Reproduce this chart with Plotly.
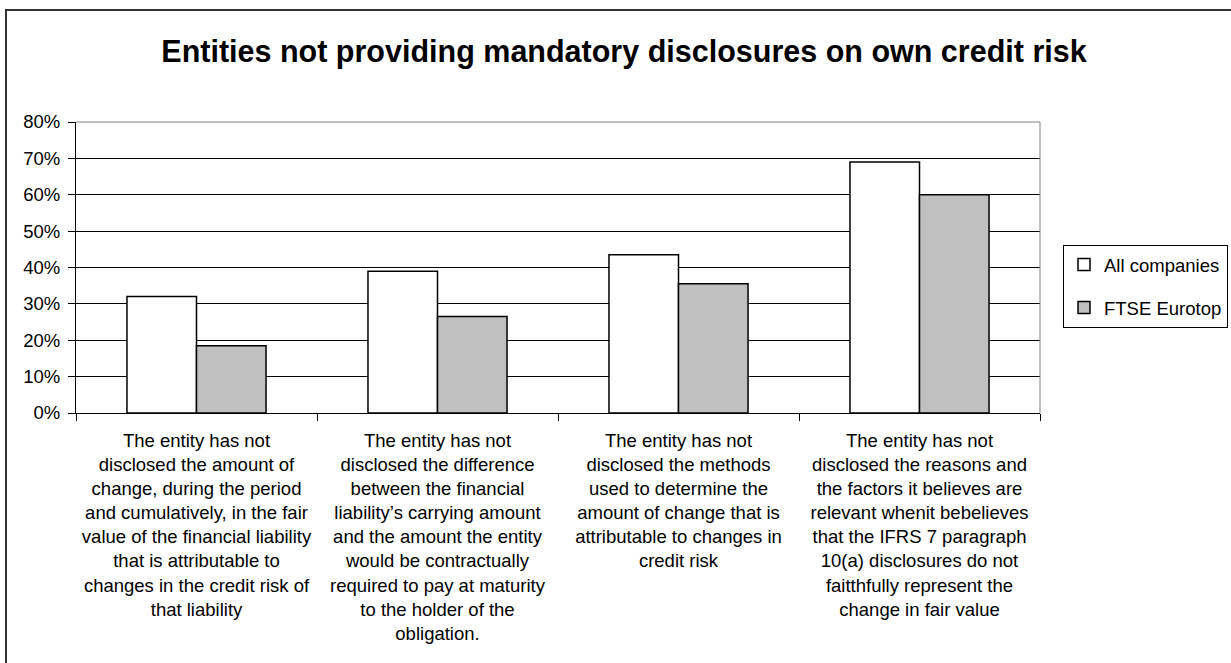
import plotly.graph_objects as go

# Disclosure requirements (category axis), wrapped as in the report
categories = [
    "The entity has not<br>disclosed the amount of<br>change, during the period<br>and cumulatively, in the fair<br>value of the financial liability<br>that is attributable to<br>changes in the credit risk of<br>that liability",
    "The entity has not<br>disclosed the difference<br>between the financial<br>liability\u2019s carrying amount<br>and the amount the entity<br>would be contractually<br>required to pay at maturity<br>to the holder of the<br>obligation.",
    "The entity has not<br>disclosed the methods<br>used to determine the<br>amount of change that is<br>attributable to changes in<br>credit risk",
    "The entity has not<br>disclosed the reasons and<br>the factors it believes are<br>relevant whenit bebelieves<br>that the IFRS 7 paragraph<br>10(a) disclosures do not<br>faitthfully represent the<br>change in fair value",
]

all_companies = [0.32, 0.39, 0.435, 0.69]
ftse_eurotop = [0.185, 0.265, 0.355, 0.60]

FONT = "Liberation Sans, Arial, sans-serif"
W, H = 1231, 663
ML, MR, MT, MB = 76, 191, 122, 250

fig = go.Figure()
fig.add_trace(go.Bar(
    name="All companies", x=categories, y=all_companies,
    marker=dict(color="#FFFFFF", line=dict(color="#000000", width=1.5)),
    legendgroup="a",
))
fig.add_trace(go.Bar(
    name="FTSE Eurotop", x=categories, y=ftse_eurotop,
    marker=dict(color="#C0C0C0", line=dict(color="#000000", width=1.5)),
    legendgroup="b",
))

pw = W - ML - MR
ph = H - MT - MB

fig.update_layout(
    width=W, height=H,
    margin=dict(l=ML, r=MR, t=MT, b=MB, autoexpand=False),
    paper_bgcolor="#FFFFFF", plot_bgcolor="#FFFFFF",
    barmode="group", bargap=0.423, bargroupgap=0,
    font=dict(family=FONT, size=18.5, color="#000000"),
    title=dict(
        text="<b>Entities not providing mandatory disclosures on own credit risk</b>",
        font=dict(family=FONT, size=30.5, color="#000000"),
        x=624 / W, xanchor="center", xref="container",
        y=1 - 51 / H, yanchor="middle", yref="container",
    ),
    showlegend=True,
    legend=dict(
        x=(1063 - ML) / pw, xanchor="left",
        y=(ph - (245 - MT)) / ph, yanchor="top",
        bordercolor="#000000", borderwidth=1, bgcolor="#FFFFFF",
        font=dict(family=FONT, size=18.5, color="#000000"),
        tracegroupgap=16, itemclick=False,
    ),
    xaxis=dict(
        type="category",
        showline=True, linecolor="#000000", linewidth=1,
        ticks="outside", tickson="boundaries", ticklen=7,
        tickcolor="#000000", tickwidth=1,
        showgrid=False, tickangle=0, ticklabelstandoff=11,
        tickfont=dict(family=FONT, size=18.5, color="#000000"),
    ),
    yaxis=dict(
        range=[0, 0.8], dtick=0.1, tickformat=".0%",
        showline=True, linecolor="#000000", linewidth=1,
        ticks="outside", ticklen=7, tickcolor="#000000", tickwidth=1,
        showgrid=True, gridcolor="#000000", gridwidth=1,
        zeroline=False, ticklabelstandoff=4,
        tickfont=dict(family=FONT, size=18.5, color="#000000"),
    ),
    shapes=[
        # plot-area frame (top and right edges)
        dict(type="line", xref="paper", yref="paper", x0=0, x1=1, y0=1, y1=1,
             line=dict(color="#808080", width=1), layer="above"),
        dict(type="line", xref="paper", yref="paper", x0=1, x1=1, y0=0, y1=1,
             line=dict(color="#808080", width=1), layer="above"),
        # chart-area border
        dict(type="rect", xref="paper", yref="paper",
             x0=(6 - ML) / pw, x1=(W + 20 - ML) / pw,
             y0=(ph - (H + 20 - MT)) / ph, y1=(ph - (10 - MT)) / ph,
             line=dict(color="#333333", width=2), fillcolor="rgba(0,0,0,0)",
             layer="above"),
    ],
)

fig.write_html("out.html")
